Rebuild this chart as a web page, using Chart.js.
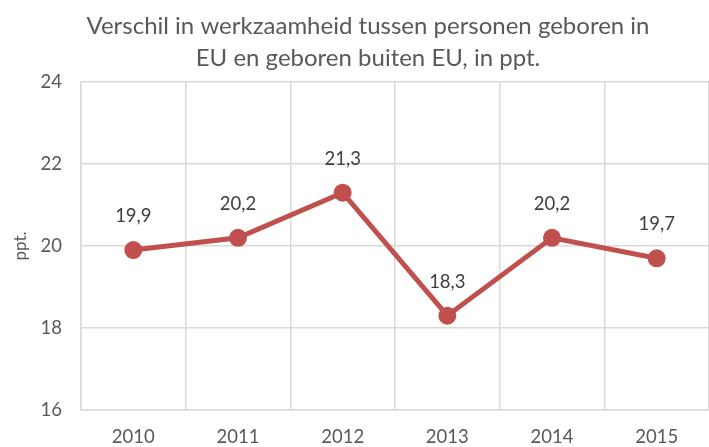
<!DOCTYPE html>
<html><head><meta charset="utf-8">
<script src="https://cdn.jsdelivr.net/npm/chart.js@4"></script>
<style>html,body{margin:0;padding:0;background:#fff}#w{width:709px;height:447px}</style>
</head><body><div id="w"><canvas id="c"></canvas></div>
<script>
const categories = ['2010','2011','2012','2013','2014','2015'];
const values = [19.9, 20.2, 21.3, 18.3, 20.2, 19.7];
const labels = ['19,9','20,2','21,3','18,3','20,2','19,7'];
const yTicks = [16, 18, 20, 22, 24];
const titleLines = ['Verschil in werkzaamheid tussen personen geboren in', 'EU en geboren buiten EU, in ppt.'];
const yTitle = 'ppt.';

const FONT = "Lato, 'Open Sans', sans-serif";
const GRID = '#d9d9d9';
const TXT = '#595959';

const labelPlugin = {
  id: 'dl',
  afterDatasetsDraw(chart) {
    const ctx = chart.ctx;
    const meta = chart.getDatasetMeta(0);
    ctx.save();
    ctx.font = "18.5px " + FONT;
    ctx.fillStyle = '#404040';
    ctx.textAlign = 'center';
    ctx.textBaseline = 'middle';
    meta.data.forEach((p, i) => {
      ctx.fillText(labels[i], p.x, p.y - 34);
    });
    ctx.restore();
  }
};

const titlePlugin = {
  id: 'ttl',
  afterDraw(chart) {
    const ctx = chart.ctx;
    ctx.save();
    ctx.font = "24px " + FONT;
    ctx.fillStyle = TXT;
    ctx.textAlign = 'center';
    ctx.textBaseline = 'middle';
    titleLines.forEach((t, i) => ctx.fillText(t, 368, 26 + i * 32));
    ctx.restore();
  }
};

new Chart(document.getElementById('c'), {
  type: 'line',
  data: {
    labels: categories,
    datasets: [{
      data: values,
      borderColor: '#c0504d',
      backgroundColor: '#c0504d',
      borderWidth: 5,
      pointRadius: 6.5,
      pointHoverRadius: 6.5,
      pointBackgroundColor: '#c0504d',
      pointBorderColor: '#c0504d',
      tension: 0,
      clip: false
    }]
  },
  options: {
    responsive: true,
    maintainAspectRatio: false,
    animation: false,
    layout: { autoPadding: false, padding: { left: 0, right: 0, top: 82, bottom: 0 } },
    plugins: {
      legend: { display: false },
      tooltip: { enabled: false },
      title: { display: false }
    },
    scales: {
      x: {
        offset: true,
        afterFit(s) { s.paddingRight = 0; s.paddingLeft = 0; s.height = 37; },
        grid: { color: GRID, lineWidth: 1.5, offset: true, drawTicks: false },
        border: { color: GRID, width: 1.5 },
        ticks: { color: TXT, font: { family: FONT, size: 18.5 }, padding: 16, maxRotation: 0 }
      },
      y: {
        min: 16, max: 24,
        afterBuildTicks(s) { s.ticks = yTicks.map(v => ({ value: v })); },
        afterFit(s) { s.width = 81; },
        grid: { color: GRID, lineWidth: 1.5, drawTicks: false },
        border: { color: GRID, width: 1.5 },
        ticks: { color: TXT, font: { family: FONT, size: 18.5 }, padding: 19 },
        title: { display: true, text: yTitle, color: TXT, font: { family: FONT, size: 17 }, padding: { top: 10, bottom: 4 } }
      }
    }
  },
  plugins: [labelPlugin, titlePlugin]
});
</script></body></html>
